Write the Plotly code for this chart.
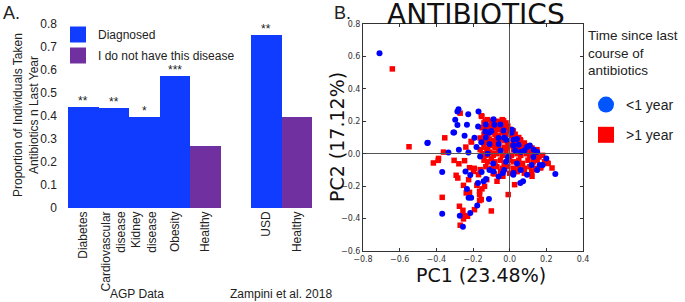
import plotly.graph_objects as go

# ---------------- Panel A data ----------------
diag_categories = ["Diabetes", "Cardiovascular disease", "Kidney disease", "Obesity", "USD"]
diag_values = [0.44, 0.435, 0.395, 0.575, 0.752]
diag_stars = ["**", "**", "*", "***", "**"]
healthy_categories = ["Healthy (AGP)", "Healthy (Zampini)"]
healthy_values = [0.268, 0.395]
axis_order = ["Diabetes", "Cardiovascular disease", "Kidney disease", "Obesity",
              "Healthy (AGP)", "gap", "USD", "Healthy (Zampini)"]
axis_labels = ["Diabetes", "Cardiovascular<br>disease", "Kidney<br>disease", "Obesity",
               "Healthy", "", "USD", "Healthy"]
group_labels = ["AGP Data", "Zampini et al. 2018"]
bar_legend = ["Diagnosed", "I do not have this disease"]

# ---------------- Panel B data (PC1, PC2) ----------------
lt1_points = [  # <1 year (blue circles)
    (-0.71, 0.62), (-0.449, 0.066), (-0.447, 0.068), (-0.303, 0.131), (-0.307, 0.131),
    (-0.279, 0.275), (-0.285, 0.26), (-0.297, 0.21), (-0.285, 0.177), (-0.226, 0.244),
    (-0.233, 0.178), (-0.246, 0.111), (-0.277, 0.025), (-0.225, 0.008), (-0.334, 0.008),
    (-0.17, 0.26), (-0.172, 0.168), (-0.192, 0.098), (-0.181, 0.041), (-0.155, 0.07),
    (-0.133, 0.137), (-0.088, 0.213), (-0.083, 0.178), (-0.11, 0.131), (-0.061, 0.097),
    (-0.033, 0.143), (0.013, 0.148), (-0.019, 0.086), (0.021, 0.086), (0.049, 0.055),
    (0.095, 0.041), (0.131, 0.025), (-0.161, -0.017),
    (-0.368, -0.113), (-0.241, -0.109), (-0.215, -0.131), (-0.233, -0.217), (-0.224, -0.271),
    (-0.21, -0.271), (-0.368, -0.371), (-0.272, -0.382), (-0.255, -0.451), (-0.215, -0.365),
    (-0.177, -0.32), (-0.113, -0.279), (-0.173, -0.18), (-0.142, -0.17), (-0.129, -0.156),
    (-0.153, -0.113), (-0.088, -0.109), (-0.037, -0.119), (0.058, -0.18), (0.073, -0.17),
    (0.021, -0.119), (0.095, -0.129), (0.164, -0.07), (0.249, -0.125),
    (-0.13, 0.18), (-0.05, 0.18), (0.01, 0.13),
    (-0.1, 0.14), (-0.03, 0.1), (0.04, 0.09),
    (-0.13, 0.1), (-0.06, 0.06), (0.02, 0.05), (0.11, 0.05),
    (-0.11, 0.06), (-0.05, 0.02), (0.03, 0.02), (0.08, 0.02), (0.15, 0.01),
    (-0.12, 0.0), (-0.01, -0.02), (0.06, 0.01), (0.13, -0.02), (0.2, -0.03),
    (-0.09, -0.06), (-0.02, -0.05), (0.04, -0.06), (0.12, -0.07), (0.18, -0.07),
    (-0.11, -0.1), (-0.03, -0.1), (0.06, -0.1), (0.15, -0.1), (-0.06, -0.14), (0.02, -0.13),
]
gt1_points = [  # >1 year (red squares)
    (-0.64, 0.523), (-0.549, 0.043), (-0.354, 0.098), (-0.27, 0.25), (-0.361, 0.01),
    (-0.239, 0.041), (-0.21, 0.076), (-0.208, 0.072), (-0.155, 0.234), (-0.151, 0.23),
    (-0.133, 0.199), (-0.128, 0.168), (-0.161, 0.097), (-0.106, 0.137), (-0.075, 0.178),
    (-0.033, 0.203), (-0.051, 0.148), (-0.073, 0.086), (0.013, 0.117), (0.031, 0.097),
    (0.058, 0.086), (0.08, 0.066), (0.103, 0.049), (0.122, 0.035), (0.149, 0.025),
    (0.134, 0.008), (-0.161, 0.025), (-0.124, 0.025), (-0.088, 0.004), (-0.015, 0.035),
    (0.021, 0.025), (-0.388, -0.029),
    (-0.416, -0.057), (-0.39, -0.041), (-0.303, -0.041), (-0.277, -0.062), (-0.246, -0.043),
    (-0.292, -0.133), (-0.283, -0.15), (-0.224, -0.16), (-0.252, -0.195), (-0.237, -0.242),
    (-0.219, -0.238), (-0.368, -0.269), (-0.274, -0.324), (-0.255, -0.349), (-0.248, -0.382),
    (-0.23, -0.386), (-0.252, -0.402), (-0.27, -0.441), (-0.192, -0.345), (-0.164, -0.289),
    (-0.155, -0.283), (-0.1, -0.353), (-0.164, -0.252), (-0.164, -0.232), (-0.151, -0.217),
    (-0.179, -0.195), (-0.137, -0.201), (-0.125, -0.16), (-0.17, -0.129), (-0.197, -0.109),
    (-0.161, -0.098), (-0.219, -0.086), (-0.193, -0.09), (-0.084, -0.125), (-0.069, -0.17),
    (-0.037, -0.139), (-0.008, -0.252), (0.027, -0.191), (0.04, -0.109), (0.122, -0.139),
    (0.144, -0.098), (0.204, -0.057), (0.231, -0.088), (0.169, -0.088),
    (-0.14, 0.19), (-0.12, 0.21), (-0.1, 0.2), (-0.08, 0.19), (-0.06, 0.2), (-0.04, 0.21),
    (-0.02, 0.19), (-0.01, 0.17), (-0.15, 0.16), (-0.13, 0.15), (-0.11, 0.17), (-0.09, 0.16),
    (-0.07, 0.15), (-0.05, 0.17), (-0.03, 0.16), (0.0, 0.15), (0.02, 0.14),
    (-0.14, 0.12), (-0.12, 0.11), (-0.1, 0.13), (-0.08, 0.12), (-0.06, 0.11), (-0.04, 0.13),
    (-0.02, 0.12), (0.01, 0.11), (0.03, 0.12), (0.05, 0.1),
    (-0.15, 0.08), (-0.13, 0.07), (-0.11, 0.09), (-0.09, 0.08), (-0.07, 0.07), (-0.05, 0.09),
    (-0.03, 0.08), (-0.01, 0.07), (0.02, 0.08), (0.04, 0.07), (0.06, 0.08), (0.08, 0.06),
    (-0.14, 0.04), (-0.12, 0.03), (-0.1, 0.05), (-0.08, 0.04), (-0.06, 0.03), (-0.03, 0.04),
    (0.0, 0.05), (0.03, 0.04), (0.05, 0.03), (0.07, 0.04), (0.1, 0.03), (0.12, 0.02),
    (-0.15, 0.0), (-0.13, -0.01), (-0.11, 0.01), (-0.09, -0.01), (-0.07, 0.0), (-0.04, -0.01),
    (-0.02, 0.01), (0.01, -0.01), (0.04, 0.0), (0.06, -0.01), (0.09, 0.0), (0.11, -0.01),
    (0.14, 0.0), (0.16, -0.02), (0.18, -0.01),
    (-0.14, -0.04), (-0.12, -0.05), (-0.1, -0.03), (-0.08, -0.05), (-0.05, -0.04), (-0.03, -0.06),
    (0.0, -0.04), (0.02, -0.05), (0.05, -0.04), (0.07, -0.06), (0.1, -0.04), (0.13, -0.05),
    (0.15, -0.04), (0.19, -0.05), (0.21, -0.06),
    (-0.13, -0.08), (-0.1, -0.09), (-0.07, -0.08), (-0.04, -0.09), (-0.01, -0.08), (0.02, -0.09),
    (0.05, -0.08), (0.08, -0.09), (0.11, -0.08), (0.14, -0.09), (0.17, -0.08),
    (-0.09, -0.12), (-0.05, -0.11), (0.0, -0.12), (0.04, -0.11), (0.08, -0.12), (0.12, -0.11),
]
scatter_legend = ["<1 year", ">1 year"]
scatter_legend_title = "Time since last<br>course of<br>antibiotics"

BLUE_BAR = "#0F3CFF"
PURPLE = "#7030A0"
ARIAL = "Liberation Sans, Arial, sans-serif"
DEJAVU = "DejaVu Sans, sans-serif"

W, H = 685, 302
def px_x(p): return p / W
def px_y(p): return 1 - p / H

fig = go.Figure()

# ---- Panel A bars ----
fig.add_trace(go.Bar(x=diag_categories, y=diag_values,
                     marker=dict(color=BLUE_BAR, line=dict(width=0)), width=1,
                     showlegend=False, xaxis="x", yaxis="y"))
fig.add_trace(go.Bar(x=healthy_categories, y=healthy_values,
                     marker=dict(color=PURPLE, line=dict(width=0)), width=1,
                     showlegend=False, xaxis="x", yaxis="y"))
# legend entries for panel A
for name, col, grp in [(bar_legend[0], BLUE_BAR, "a1"), (bar_legend[1], PURPLE, "a2")]:
    fig.add_trace(go.Scatter(x=[None], y=[None], mode="markers", name=name,
                             marker=dict(symbol="square", size=16, color=col),
                             legend="legend", legendgroup=grp, xaxis="x", yaxis="y"))

# ---- Panel B scatter ----
fig.add_trace(go.Scatter(x=[p[0] for p in gt1_points], y=[p[1] for p in gt1_points],
                         mode="markers", name=scatter_legend[1], showlegend=False,
                         marker=dict(symbol="square", size=5.5, color="#FF0000"),
                         xaxis="x2", yaxis="y2"))
fig.add_trace(go.Scatter(x=[p[0] for p in lt1_points], y=[p[1] for p in lt1_points],
                         mode="markers", name=scatter_legend[0], showlegend=False,
                         marker=dict(symbol="circle", size=6, color="#0000FF"),
                         xaxis="x2", yaxis="y2"))
for name, col, sym, grp in [(scatter_legend[0], "#0055FF", "circle", "b1"),
                            (scatter_legend[1], "#FF0000", "square", "b2")]:
    fig.add_trace(go.Scatter(x=[None], y=[None], mode="markers", name=name,
                             marker=dict(symbol=sym, size=16, color=col),
                             legend="legend2", legendgroup=grp, xaxis="x2", yaxis="y2"))

fig.update_layout(
    width=W, height=H, margin=dict(l=0, r=0, t=0, b=0),
    paper_bgcolor="white", plot_bgcolor="white",
    barmode="overlay", bargap=0,
    font=dict(family=ARIAL, size=12, color="#222"),
    xaxis=dict(domain=[px_x(68), px_x(312)], type="category",
               categoryorder="array", categoryarray=axis_order,
               tickmode="array", tickvals=axis_order, ticktext=axis_labels,
               tickangle=-90, range=[-0.5, 7.5], showline=False, showgrid=False,
               zeroline=False, ticks="", tickfont=dict(family=ARIAL, size=12, color="#222"),
               automargin=False),
    yaxis=dict(domain=[1 - 208 / H, 1 - 24 / H], range=[0, 0.8], dtick=0.1,
               showline=False, showgrid=False, zeroline=False, ticks="",
               ticklabelstandoff=10, tickfont=dict(family=ARIAL, size=12, color="#222"),
               automargin=False),
    xaxis2=dict(domain=[px_x(363), px_x(583)], range=[-0.8, 0.4], dtick=0.2, tickformat=".1f",
                showline=True, mirror="ticks", linecolor="#333", linewidth=1,
                ticks="inside", ticklen=3, tickcolor="#333", showgrid=False,
                zeroline=True, zerolinecolor="#555", zerolinewidth=1,
                tickfont=dict(family=DEJAVU, size=8, color="#333"), anchor="y2",
                automargin=False),
    yaxis2=dict(domain=[1 - 251 / H, 1 - 24 / H], range=[-0.6, 0.8], dtick=0.2, tickformat=".1f",
                showline=True, mirror="ticks", linecolor="#333", linewidth=1,
                ticks="inside", ticklen=3, tickcolor="#333", showgrid=False,
                zeroline=True, zerolinecolor="#555", zerolinewidth=1,
                tickfont=dict(family=DEJAVU, size=8, color="#333"), anchor="x2",
                automargin=False),
    legend=dict(x=px_x(58), y=px_y(20), xanchor="left", yanchor="top",
                font=dict(family=ARIAL, size=12, color="#222"), bgcolor="rgba(0,0,0,0)",
                tracegroupgap=2, itemsizing="trace"),
    legend2=dict(x=px_x(586), y=px_y(89), xanchor="left", yanchor="top",
                 font=dict(family=ARIAL, size=14, color="#222"), bgcolor="rgba(0,0,0,0)",
                 tracegroupgap=9, itemsizing="trace"),
)
try:
    fig.update_xaxes(zerolinelayer="above traces", selector=dict(anchor="y2"))
    fig.update_yaxes(zerolinelayer="above traces", selector=dict(anchor="x2"))
except Exception:
    pass

annotations = [
    dict(text="A.", x=px_x(1), y=px_y(13), xanchor="left", yanchor="middle",
         font=dict(family=ARIAL, size=18, color="#222")),
    dict(text="B.", x=px_x(332), y=px_y(13), xanchor="left", yanchor="middle",
         font=dict(family=ARIAL, size=18, color="#222")),
    dict(text="Proportion of Individuals Taken<br>Antibiotics n Last Year", textangle=-90,
         x=px_x(26), y=px_y(115), xanchor="center", yanchor="middle",
         font=dict(family=ARIAL, size=12, color="#222")),
    dict(text=group_labels[0], x=px_x(137), y=px_y(294), xanchor="center", yanchor="middle",
         font=dict(family=ARIAL, size=12, color="#222")),
    dict(text=group_labels[1], x=px_x(281), y=px_y(294), xanchor="center", yanchor="middle",
         font=dict(family=ARIAL, size=12, color="#222")),
    dict(text="ANTIBIOTICS", x=px_x(476), y=px_y(14), xanchor="center", yanchor="middle",
         font=dict(family=DEJAVU, size=28, color="#111")),
    dict(text="PC1 (23.48%)", x=px_x(481), y=px_y(275), xanchor="center", yanchor="middle",
         font=dict(family=DEJAVU, size=19, color="#111")),
    dict(text="PC2 (17.12%)", textangle=-90, x=px_x(337), y=px_y(137), xanchor="center",
         yanchor="middle", font=dict(family=DEJAVU, size=19, color="#111")),
    dict(text=scatter_legend_title, x=px_x(586), y=px_y(53), xanchor="left", yanchor="middle",
         align="left", font=dict(family=ARIAL, size=13.5, color="#222")),
]
for a in annotations:
    a.update(xref="paper", yref="paper", showarrow=False)
# significance stars above the diagnosed bars, placed from the data
for cat, val, star in zip(diag_categories, diag_values, diag_stars):
    annotations.append(dict(text=star, x=cat, y=val, xref="x", yref="y",
                            xanchor="center", yanchor="bottom", yshift=-3, showarrow=False,
                            font=dict(family=ARIAL, size=12, color="#222")))
fig.update_layout(annotations=annotations)

fig.write_html("out.html", config={"displayModeBar": False},
               post_script="document.body.style.margin='0';")
